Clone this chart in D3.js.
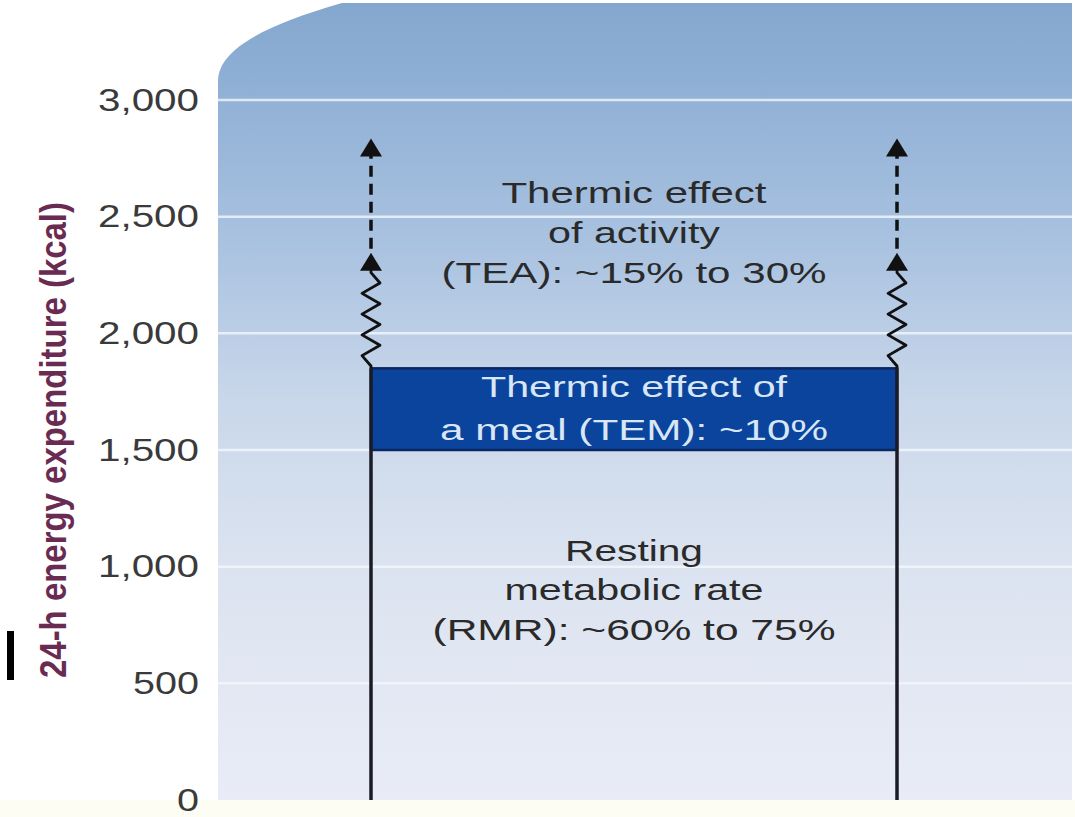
<!DOCTYPE html>
<html><head><meta charset="utf-8">
<script src="https://cdn.jsdelivr.net/npm/d3@7"></script>
<style>body{margin:0;background:#fff;}svg{display:block;}</style>
</head><body>
<svg id="c" width="1075" height="817"></svg>
<script>
const yTicks = [0, 500, 1000, 1500, 2000, 2500, 3000];
const columns = ["left", "right"];
const rmr = [0, 1500];
const tem = [1500, 1850];
const teaZig = [1860, 2260];
const teaArrow1 = 2345;
const teaArrow2 = 2835;
const yTitle = "24-h energy expenditure (kcal)";
const teaText = ["Thermic effect", "of activity", "(TEA): ~15% to 30%"];
const temText = ["Thermic effect of", "a meal (TEM): ~10%"];
const rmrText = ["Resting", "metabolic rate", "(RMR): ~60% to 75%"];

const tf = "'Liberation Sans', Arial, Helvetica, sans-serif";
const svg = d3.select("#c");
const y = d3.scaleLinear().domain([0, 3000]).range([800, 100]);
const x = d3.scalePoint().domain(columns).range([371, 897]);
const cx = (x("left") + x("right")) / 2;

const defs = svg.append("defs");
const g = defs.append("linearGradient").attr("id", "bg").attr("x1", 0).attr("y1", 0).attr("x2", 0).attr("y2", 1);
[[0, "#84a7cf"], [0.12, "#91b1d6"], [0.3, "#a9c2e0"], [0.5, "#c9d7ea"], [0.7, "#dbe3f0"], [1, "#e9ecf6"]].forEach(s =>
  g.append("stop").attr("offset", s[0]).attr("stop-color", s[1]));

// bottom cream strip
svg.append("rect").attr("x", 0).attr("y", 800).attr("width", 1075).attr("height", 17).attr("fill", "#fdfdf4");

// panel
svg.append("path").attr("d", "M218,800 L218,80 C219,50 262,26 342,3 L1072,3 L1072,800 Z")
  .attr("fill", "url(#bg)");

// gridlines
svg.append("g").selectAll("line").data(yTicks.filter(d => d > 0)).join("line")
  .attr("x1", 218).attr("x2", 1072).attr("y1", d => y(d)).attr("y2", d => y(d))
  .attr("stroke", "#f2f7fd").attr("stroke-opacity", 0.8).attr("stroke-width", 2.5);

// y axis labels
const fmt = d3.format(",");
svg.append("g").selectAll("text").data(yTicks).join("text")
  .attr("x", 199).attr("y", d => y(d)).attr("dy", "0.34em").attr("text-anchor", "end")
  .attr("font-family", tf).attr("font-size", 31).attr("fill", "#3a3a3a")
  .attr("textLength", d => { const s = fmt(d); return s.replace(/,/g, "").length * 22 + (s.includes(",") ? 13 : 0); })
  .attr("lengthAdjust", "spacingAndGlyphs")
  .text(d => fmt(d));

// y title
svg.append("text").attr("transform", `translate(66,440) scale(1.3,1) rotate(-90)`)
  .attr("text-anchor", "middle").attr("font-family", tf)
  .attr("font-weight", "bold").attr("font-size", 28).attr("fill", "#6a2b52")
  .attr("textLength", 476).attr("lengthAdjust", "spacingAndGlyphs").text(yTitle);

// black mark
svg.append("rect").attr("x", 7).attr("y", 631).attr("width", 7).attr("height", 49).attr("fill", "#000");

// TEM box
svg.append("rect").attr("x", x("left")).attr("y", y(tem[1])).attr("width", x("right") - x("left"))
  .attr("height", y(tem[0]) - y(tem[1])).attr("fill", "#0b449d").attr("stroke", "#0a2660").attr("stroke-width", 2.5);

function arrowHead(px, tipY) {
  svg.append("path").attr("d", `M${px},${tipY} L${px - 11},${tipY + 18} L${px + 11},${tipY + 18} Z`).attr("fill", "#111");
}

columns.forEach(c => {
  const px = x(c);
  svg.append("line").attr("x1", px).attr("x2", px).attr("y1", y(rmr[0])).attr("y2", y(tem[1]))
    .attr("stroke", "#1b1b26").attr("stroke-width", 3.5);
  // zigzag
  const y0 = y(teaZig[0]), y1 = y(teaZig[1]);
  const n = 9, pts = [[px, y(tem[1])], [px, y0]];
  for (let i = 1; i < n; i++) {
    const yy = y0 + (y1 - y0) * i / n;
    pts.push([px + (i % 2 ? -9 : 9), yy]);
  }
  pts.push([px, y1]);
  pts.push([px, y(teaArrow1) + 16]);
  svg.append("path").attr("d", d3.line()(pts)).attr("fill", "none").attr("stroke", "#111").attr("stroke-width", 2.8)
    .attr("stroke-linejoin", "round");
  arrowHead(px, y(teaArrow1));
  // dashed to top arrow
  svg.append("line").attr("x1", px).attr("x2", px).attr("y1", y(teaArrow1) - 4).attr("y2", y(teaArrow2) + 16)
    .attr("stroke", "#111").attr("stroke-width", 3.5).attr("stroke-dasharray", "11,7");
  arrowHead(px, y(teaArrow2));
});

function block(lines, ys, lens, color) {
  svg.append("g").selectAll("text").data(lines).join("text")
    .attr("x", cx).attr("y", (d, i) => ys[i]).attr("text-anchor", "middle")
    .attr("font-family", tf).attr("font-size", 30).attr("fill", color)
    .attr("textLength", (d, i) => lens[i]).attr("lengthAdjust", "spacingAndGlyphs")
    .text(d => d);
}
block(teaText, [203, 243, 283], [265, 172, 385], "#2a2a2a");
block(temText, [397, 440], [306, 388], "#d9e6f6");
block(rmrText, [561, 600, 640], [138, 259, 403], "#2a2a2a");
</script>
</body></html>
